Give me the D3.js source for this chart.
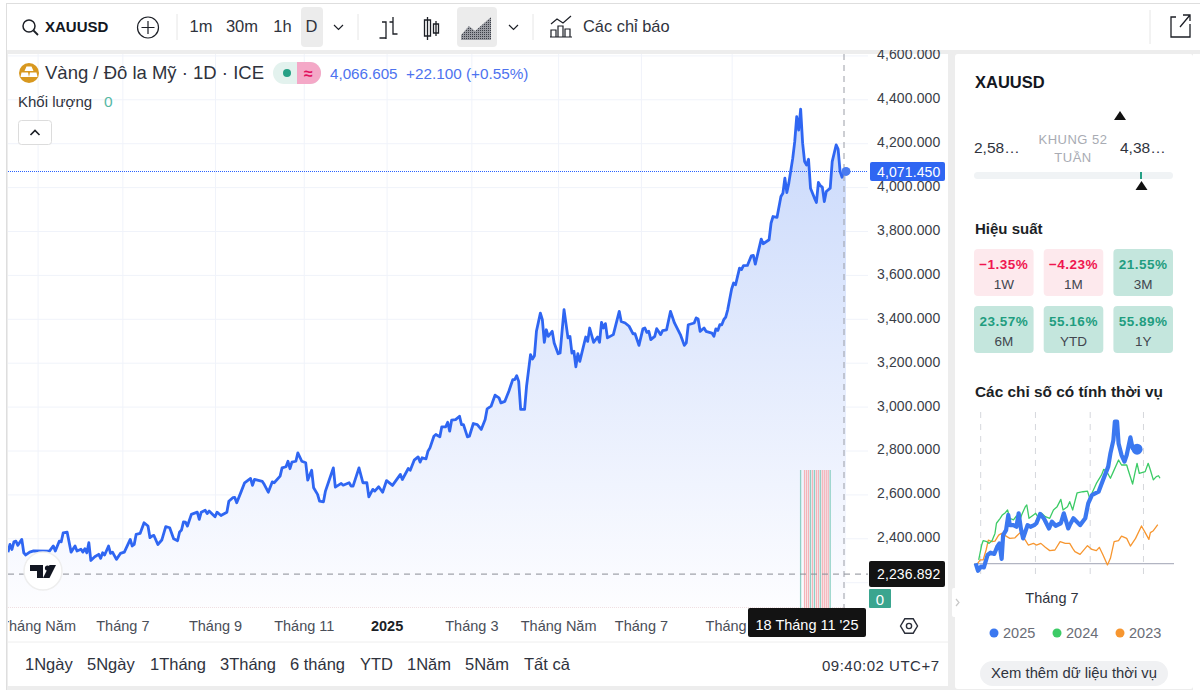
<!DOCTYPE html>
<html>
<head>
<meta charset="utf-8">
<title>XAUUSD</title>
<script src="https://cdn.jsdelivr.net/npm/d3@7"></script>
<style>
    html, body { margin: 0; padding: 0; background: #fff; overflow: hidden; }
    svg { display: block; font-family: "Liberation Sans", Arial, sans-serif; }
    .axis .domain { display: none; }
</style>
</head>
<body>
<div id="chart"></div>
<script>
// Price chart: bar number counted from the left edge, close at that bar
var barIndex = [0,1,2,3,4,5,7,8,9,11,13,21,23,24,26,27,28,30,32,34,35,37,38,39,40,41,42,44,46,47,48,49,51,52,53,55,57,59,62,63,
    64,65,67,69,71,72,73,74,76,78,80,82,84,86,87,88,89,90,91,93,96,97,98,100,101,102,105,106,108,111,112,114,115,116,118,120,123,124,125,129,
    130,132,134,135,138,139,141,142,143,144,146,147,149,151,152,154,155,157,158,160,161,163,165,166,169,170,173,174,175,178,180,182,183,185,186,188,190,192,195,199,
    200,203,204,206,208,209,210,212,213,214,216,217,219,220,222,223,224,225,227,229,230,231,233,234,236,238,240,242,243,245,
    247,249,250,252,254,256,257,258,259,260,262,263,265,266,267,268,270,271,272,273,274,276,277,279,280,282,284,285,286,287,288,289,290,293,294,295,297,299,300,301,
    302,303,304,307,310,311,313,315,317,318,320,322,323,324,325,326,328,329,331,332,334,336,338,341,343,344,345,348,349,350,351,353,354,357,358,359,360,361,362,363,
    364,365,367,368,369,371,372,373,375,377,378,379,382,383,386,387,388,390,392,393,394,395,396,398,399,400,401,402,403,404,405,406,407,409,410,411,412,413,414,415,417,418,420,421,422,423,424,425];
var closes = [2337,2372,2349,2384,2387,2368,2395,2334,2324,2337,2343,2342,2365,2342,2387,2384,2425,2428,2337,2365,2342,2350,2337,2353,2334,2380,2299,2316,2327,2309,2334,2324,2365,2331,2337,2304,2331,2337,2395,2365,
    2372,2418,2422,2471,2456,2403,2410,2413,2372,2392,2453,2448,2398,2389,2428,2438,2475,2474,2456,2509,2519,2486,2519,2528,2513,2524,2498,2519,2504,2519,2569,2585,2586,2562,2607,2653,2673,2641,2668,2659,
    2645,2610,2657,2653,2683,2721,2726,2751,2717,2747,2751,2789,2751,2744,2665,2710,2630,2600,2569,2566,2615,2668,2721,2633,2650,2642,2653,2638,2638,2721,2653,2653,2589,2623,2615,2635,2610,2663,2641,2691,
    2668,2718,2710,2756,2771,2747,2767,2762,2797,2812,2865,2873,2862,2908,2908,2929,2888,2938,2941,2956,2918,2918,2862,2865,2923,2918,2896,2941,2990,3002,
    3052,3040,3017,3024,3070,3123,3123,3141,3115,2987,2987,3093,3237,3217,3232,3343,3426,3396,3293,3350,3320,3343,3290,3241,3244,3442,3313,3320,3244,3252,3181,3241,3206,3317,3297,3358,3293,3317,3293,3384,
    3358,3378,3313,3328,3434,3388,3381,3366,3331,3332,3279,3354,3358,3338,3343,3305,3320,3355,3328,3346,3350,3434,3381,3328,3279,3290,3373,3381,3404,3399,3343,3358,3343,3335,3320,3354,3347,3373,3373,3396,
    3408,3441,3536,3563,3555,3631,3624,3642,3643,3687,3689,3649,3763,3742,3760,3836,3866,3862,3957,3972,4041,3975,4018,4132,4207,4321,4260,4355,4200,4116,4101,4127,3995,3950,3930,4021,4006,4000,3934,3980,3995,4116,4192,4173,4071,4045,4066.605,4071.45];

var priceTicks = [4600,4400,4200,4000,3800,3600,3400,3200,3000,2800,2600,2400,2200];
var timeTickBars = [15,58,105,150,192,235,279,321,367];
var timeTickLabels = ["Tháng Năm","Tháng 7","Tháng 9","Tháng 11","2025","Tháng 3","Tháng Năm","Tháng 7","Tháng 9"];

// Volume only exists for the last few bars, all the same height
var volumeBars = [402,404,405,406,407,408,409,410,411,412,413,414,415,416,417];
var volumeValues = [1,1,1,1,1,1,1,1,1,1,1,1,1,1,1];
var volumeUp = [1,0,0,0,1,0,1,0,0,1,0,0,0,0,1];

// Seasonal panel: trading day of the year, percent change from the start of the year
var days2025 = [1,4,8,12,17,21,26,30,33,36,38,42,45,47,52,56,59,62,65,71,75,80,83,88,93,100,104,109,116,120,126,128,133,142,149,153,158,167,173,180,183,187,189,192,194,198,202,205,210,213,219];
var pct2025 = [0.2,-3.4,-1.4,-1.8,4.2,5.3,4.7,8.2,9.8,2.3,13.8,16.2,23.5,18.6,18.6,17.8,24.3,17,12.2,18.6,17.8,18.6,19.5,24,21.9,17,20.3,18.3,19.5,24.3,17,18.6,21.9,18.6,21.9,29.1,33.1,34.7,40.4,46.8,53.2,59.6,68.5,68.5,58,52.4,49.2,52.4,60.9,55.6,55.2];
var days2024 = [5,9,11,16,19,23,27,29,34,37,41,44,47,52,56,60,63,68,70,73,79,82,86,90,95,101,106,111,116,119,125,128,132,138,146,152,155,160,164,171,174,178,183,187,194,198,205,207,213,216,219,222,230,234,237,241,245,248,250];
var pct2024 = [1.8,9,11.1,10.6,9.8,11.1,14.6,19.5,21.9,23.5,24.6,25.9,21.9,21.1,23,20.3,23.5,27.5,28.3,21.9,23.5,24.3,21.9,24.3,22.7,21.9,25.9,27.5,31,25.9,27.5,29.9,25.9,34.2,34.7,35,31.5,35.5,38.7,42.8,45.5,44.4,41.2,44.4,50,47.6,47.6,45.2,38.4,43.6,48.4,43.6,44.4,48.4,45.2,40.4,42,42.4,41.2];
var days2023 = [3,7,11,15,18,23,27,32,36,42,47,54,61,68,72,79,83,89,95,101,108,115,122,128,132,135,142,152,158,164,168,173,179,183,188,194,198,205,210,217,225,230,235,237,241,247];
var pct2023 = [-0.2,1.8,1.8,6.6,11.4,10.6,10.9,13.8,14.6,13.3,12.2,12.5,15,11.4,9,9.8,9,9.8,7.9,6.3,6.6,10.6,9.8,9.8,7.4,5.8,4.5,8.7,6.9,6.3,7.9,4.2,-0.6,2.6,10.6,11.1,13.3,12.2,8.5,12.2,18.2,15,11.7,15,15.9,18.8];
var seasonGridDays = [7,81,155,227];
var seasonYears = ["2025","2024","2023"];

var perfLabels = ["1W","1M","3M","6M","YTD","1Y"];
var perfValues = [-1.35,-4.23,21.55,23.57,55.16,55.89];

var rangeLabels = ["1Ngày","5Ngày","1Tháng","3Tháng","6 tháng","YTD","1Năm","5Năm","Tất cả"];
var toolbarTimes = ["1m","30m","1h","D"];

var blue = "#2f66f2";
var textDark = "#2a2e39";

var svg = d3.select("#chart").append("svg").attr("width", 1200).attr("height", 693);

function label(parent, x, y, str, size, opts) {
    opts = opts || {};
    return parent.append("text")
        .attr("x", x).attr("y", y)
        .attr("font-size", size)
        .attr("fill", opts.fill || textDark)
        .attr("font-weight", opts.weight || null)
        .attr("text-anchor", opts.anchor || "start")
        .attr("letter-spacing", opts.spacing || null)
        .text(str);
}

// Scales
var x = d3.scaleLinear().domain([0, 425]).range([8, 846]);
var y = d3.scaleLinear().domain([2400, 4400]).range([538.3, 99.3]);
var volY = d3.scaleLinear().domain([0, 1]).range([608, 470]);

var defs = svg.append("defs");
defs.append("clipPath").attr("id", "pane").append("rect").attr("x", 8).attr("y", 54).attr("width", 861).attr("height", 554);
// this one is used inside the translated time axis group
defs.append("clipPath").attr("id", "pane2").append("rect").attr("x", 8).attr("y", 0).attr("width", 940).attr("height", 34);
var grad = defs.append("linearGradient").attr("id", "areaFill").attr("gradientUnits", "userSpaceOnUse")
    .attr("x1", 0).attr("x2", 0).attr("y1", 105).attr("y2", 608);
grad.append("stop").attr("offset", 0).attr("stop-color", "#c8d8fb");
grad.append("stop").attr("offset", 1).attr("stop-color", "#fdfdff");
var hatch = defs.append("pattern").attr("id", "hatch").attr("patternUnits", "userSpaceOnUse").attr("width", 2).attr("height", 2);
hatch.append("rect").attr("width", 2).attr("height", 2).attr("fill", "#9a9ca3");
hatch.append("rect").attr("width", 1).attr("height", 1).attr("fill", "#3c3f47");

// Frame
svg.append("rect").attr("x", 0).attr("y", 0).attr("width", 1200).attr("height", 693).attr("fill", "#fff");
svg.append("rect").attr("x", 6).attr("y", 50).attr("width", 1194).attr("height", 640).attr("fill", "#ededed");
svg.append("rect").attr("x", 8).attr("y", 54).attr("width", 940).attr("height", 632).attr("fill", "#fff");

// Price axis carries the horizontal grid, time axis the vertical grid
var pane = svg.append("g");
var plot = pane.append("g").attr("clip-path", "url(#pane)");

plot.append("g").attr("transform", "translate(8,0)")
    .call(d3.axisRight(y).tickValues(priceTicks).tickSize(860).tickFormat(""))
    .call(g => g.select(".domain").remove())
    .selectAll("line").attr("stroke", "#f0f3fa");

plot.append("g").attr("transform", "translate(0,54)")
    .call(d3.axisBottom(x).tickValues(timeTickBars).tickSize(554).tickFormat(""))
    .call(g => g.select(".domain").remove())
    .selectAll("line").attr("stroke", "#f0f3fa");

var area = d3.area().x((d, i) => x(barIndex[i])).y0(608).y1(d => y(d));
var line = d3.line().x((d, i) => x(barIndex[i])).y(d => y(d));

plot.append("path").datum(closes).attr("d", area).attr("fill", "url(#areaFill)");

// Volume bars and the row of empty volume dots along the bottom
plot.append("line").attr("x1", 8).attr("x2", 846).attr("y1", 607.5).attr("y2", 607.5)
    .attr("stroke", "#f0dfe1").attr("stroke-dasharray", "1,1");
plot.selectAll("rect.vol").data(volumeValues).enter().append("rect")
    .attr("class", "vol")
    .attr("x", (d, i) => x(volumeBars[i]) - 0.7)
    .attr("width", 1.3)
    .attr("y", d => volY(d))
    .attr("height", d => volY(0) - volY(d))
    .attr("fill", (d, i) => volumeUp[i] ? "#8fd0c5" : "#f5b4b8");

plot.append("path").datum(closes).attr("d", line)
    .attr("fill", "none").attr("stroke", blue).attr("stroke-width", 2.8).attr("stroke-linejoin", "round");

// Last price line and crosshair
var lastClose = closes[closes.length - 1];
var lastY = Math.round(y(lastClose)) + 0.5;
plot.append("line").attr("x1", 8).attr("x2", 868).attr("y1", lastY).attr("y2", lastY)
    .attr("stroke", "#2962ff").attr("stroke-width", 1).attr("stroke-dasharray", "1,1");
plot.append("line").attr("x1", 8).attr("x2", 868).attr("y1", y(2236.892)).attr("y2", y(2236.892))
    .attr("stroke", "#8a8d96").attr("stroke-width", 1).attr("stroke-dasharray", "6,5");
plot.append("line").attr("x1", 844).attr("x2", 844).attr("y1", 54).attr("y2", 608)
    .attr("stroke", "#9a9da6").attr("stroke-width", 1).attr("stroke-dasharray", "6,5");
plot.append("circle").attr("cx", x(425)).attr("cy", y(lastClose)).attr("r", 4.5).attr("fill", "#4a7bf0");

// Tick labels
var priceAxis = pane.append("g").attr("class", "axis").attr("transform", "translate(869,-1)")
    .call(d3.axisRight(y).tickValues(priceTicks.slice(0, 12)).tickSize(0).tickPadding(8).tickFormat(d3.format(",.3f")));
priceAxis.selectAll("text").attr("font-size", 14).attr("letter-spacing", 0.12)
    .attr("font-family", "Liberation Sans").attr("fill", "#3a3e48");

var timeAxis = pane.append("g").attr("class", "axis").attr("transform", "translate(0,608)").attr("clip-path", "url(#pane2)")
    .call(d3.axisBottom(x).tickValues(timeTickBars).tickSize(0).tickPadding(13).tickFormat((d, i) => timeTickLabels[i]));
timeAxis.selectAll("text").attr("font-size", 14.5).attr("font-family", "Liberation Sans").attr("fill", "#4a4e58")
    .attr("font-weight", (d, i) => timeTickLabels[i] == "2025" ? "bold" : null)
    .style("fill", (d, i) => timeTickLabels[i] == "2025" ? "#1c1f26" : null);

// Price and date flags
var flags = svg.append("g");
flags.append("rect").attr("x", 870).attr("y", lastY - 9.5).attr("width", 75).attr("height", 19).attr("rx", 2).attr("fill", blue);
label(flags, 877, lastY + 5, d3.format(",.3f")(lastClose), 14, { fill: "#fff", spacing: 0.12 });
flags.append("rect").attr("x", 869).attr("y", 561).attr("width", 76).attr("height", 26).attr("rx", 2).attr("fill", "#131313");
label(flags, 877, 578.5, "2,236.892", 14, { fill: "#fff", spacing: 0.12 });
flags.append("rect").attr("x", 869).attr("y", 589).attr("width", 22).attr("height", 19).attr("rx", 1).attr("fill", "#3aa58f");
label(flags, 880, 604.5, "0", 15, { fill: "#fff", anchor: "middle" });
flags.append("rect").attr("x", 748).attr("y", 608).attr("width", 118).attr("height", 29).attr("rx", 2).attr("fill", "#131313");
label(flags, 807, 630, "18 Tháng 11 '25", 14.5, { fill: "#fff", anchor: "middle" });

// Settings hexagon in the axis corner
var gear = svg.append("g").attr("transform", "translate(909,626)").attr("fill", "none").attr("stroke", "#2a2e39").attr("stroke-width", 1.4);
gear.append("path").attr("d", "M-8.5 0L-4.2 -7.2H4.2L8.5 0L4.2 7.2H-4.2Z");
gear.append("circle").attr("r", 2.6);

// TradingView badge
var badge = svg.append("g");
badge.append("circle").attr("cx", 43).attr("cy", 571).attr("r", 19).attr("fill", "#fff").attr("stroke", "#eeeeee").attr("stroke-width", 1.5);
badge.append("path").attr("fill", "#131722").attr("d", "M30 565H43V578H37V571H30Z");
badge.append("circle").attr("cx", 47.5).attr("cy", 568).attr("r", 2.6).attr("fill", "#131722");
badge.append("path").attr("fill", "#131722").attr("d", "M49.5 565H56L49.5 578H43Z");

// Chart legend
var legend = svg.append("g");
legend.append("circle").attr("cx", 29).attr("cy", 73).attr("r", 10).attr("fill", "#d8981f");
legend.append("path").attr("fill", "#fff").attr("d", "M26.5 66.5H31.5L33.5 71H24.5ZM21.5 72.5H28L29 77H20.5ZM30 72.5H36.5L37.5 77H29Z");
label(legend, 45, 79, "Vàng / Đô la Mỹ · 1D · ICE", 18.5, { fill: "#2f333d" });
legend.append("rect").attr("x", 273).attr("y", 62).attr("width", 48).attr("height", 22).attr("rx", 11).attr("fill", "#e3f2ee");
legend.append("path").attr("fill", "#f4a8c7").attr("d", "M297 62H310A11 11 0 0 1 310 84H297Z");
legend.append("circle").attr("cx", 287).attr("cy", 73).attr("r", 4).attr("fill", "#26a085");
label(legend, 308.5, 79, "≈", 16, { fill: "#e0115f", anchor: "middle", weight: "bold" });
label(legend, 330, 79, "4,066.605", 15.2, { fill: "#4d73ef" });
label(legend, 406, 79, "+22.100 (+0.55%)", 15.3, { fill: "#4d73ef" });
label(legend, 18, 107, "Khối lượng", 15, { fill: "#2f333d" });
label(legend, 104, 107, "0", 15.5, { fill: "#56b8a4" });
legend.append("rect").attr("x", 18.5).attr("y", 120.5).attr("width", 33).attr("height", 24).attr("rx", 3).attr("fill", "#fff").attr("stroke", "#dcdcdc");
legend.append("path").attr("d", "M30.5 135L35 130.5L39.5 135").attr("fill", "none").attr("stroke", "#1c1f26").attr("stroke-width", 1.6);

// Range buttons and clock
var rangeX = [25, 87, 150, 220, 290, 360, 407, 465, 524];
var bottom = svg.append("g");
bottom.append("line").attr("x1", 8).attr("x2", 948).attr("y1", 642).attr("y2", 642).attr("stroke", "#eeeeee");
rangeLabels.forEach((d, i) => label(bottom, rangeX[i], 670, d, 16.5, { fill: "#2f333d" }));
label(bottom, 822, 671, "09:40:02 UTC+7", 15, { fill: "#2f333d", spacing: 0.5 });

// Toolbar
var bar = svg.append("g");
bar.append("rect").attr("x", 6).attr("y", 3).attr("width", 1194).attr("height", 47).attr("fill", "#fff");
bar.append("line").attr("x1", 6).attr("x2", 1200).attr("y1", 3.5).attr("y2", 3.5).attr("stroke", "#dedede");
bar.append("line").attr("x1", 6.5).attr("x2", 6.5).attr("y1", 3).attr("y2", 690).attr("stroke", "#dedede");
var icons = bar.append("g").attr("fill", "none").attr("stroke", "#1c1f26").attr("stroke-width", 1.5);
icons.append("circle").attr("cx", 29).attr("cy", 26).attr("r", 6);
icons.append("path").attr("d", "M33.5 30.5L38 35").attr("stroke-width", 1.8);
label(bar, 45, 32, "XAUUSD", 15, { weight: "bold", fill: "#131722" });
icons.append("circle").attr("cx", 148).attr("cy", 27.5).attr("r", 10.5).attr("stroke-width", 1.2);
icons.append("path").attr("d", "M141.5 27.5H154.5M148 21V34").attr("stroke-width", 1.2);
[177, 358, 533].forEach(d => bar.append("line").attr("x1", d).attr("x2", d).attr("y1", 14).attr("y2", 40).attr("stroke", "#e6e6e6"));
bar.append("rect").attr("x", 301).attr("y", 7).attr("width", 22).attr("height", 40).attr("rx", 4).attr("fill", "#ececec");
bar.append("rect").attr("x", 457).attr("y", 7).attr("width", 40).attr("height", 40).attr("rx", 4).attr("fill", "#ececec");
var toolbarX = [201, 242, 282.5, 311.5];
toolbarTimes.forEach((d, i) => label(bar, toolbarX[i], 32, d, 16.5, { anchor: "middle", fill: "#2f333d" }));
[338.5, 513.5].forEach(d => icons.append("path").attr("d", "M" + (d - 4.5) + " 25L" + d + " 29.5L" + (d + 4.5) + " 25").attr("stroke-width", 1.2));
icons.append("path").attr("stroke-width", 1.3).attr("d", "M382 22H386V39M379.5 38H386M393 17V34H397.5M393 22H389.5");
icons.append("path").attr("stroke-width", 1.3).attr("d", "M427.5 17V40M424.5 20H430.5V36H424.5ZM436 21V36M433.5 24H438.5V33H433.5Z");
bar.append("path").attr("fill", "url(#hatch)").attr("d", "M461 40V35L469 26L475 31L491 17V40Z");
icons.append("path").attr("stroke-width", 1.4).attr("d", "M461 32L469 23L475 28L491 14");
icons.append("path").attr("stroke-width", 1.2).attr("d", "M551 24L557 19L563 23L571 16M551 37V30H556V37ZM558 37V26H563V37ZM565 37V29H570V37ZM550 37H572");
label(bar, 583, 32, "Các chỉ báo", 16.4, { fill: "#2f333d" });
bar.append("line").attr("x1", 1150).attr("x2", 1150).attr("y1", 10).attr("y2", 44).attr("stroke", "#e6e6e6");
icons.append("path").attr("stroke-width", 1.3).attr("d", "M1176 17H1171V37H1190V24M1180 27L1190 15M1183 15H1190V21");

// Side panel
var side = svg.append("g");
side.append("rect").attr("x", 955).attr("y", 54).attr("width", 238).attr("height", 635).attr("rx", 3).attr("fill", "#fff");
svg.append("rect").attr("x", 1193).attr("y", 54).attr("width", 7).attr("height", 639).attr("fill", "#fff");
side.append("rect").attr("x", 952).attr("y", 588).attr("width", 10).attr("height", 29).attr("rx", 2).attr("fill", "#fff");
side.append("path").attr("d", "M956 599L959 602.5L956 606").attr("fill", "none").attr("stroke", "#c8c8c8").attr("stroke-width", 1.2);
label(side, 975, 88, "XAUUSD", 16.5, { weight: "bold", fill: "#131722" });
side.append("path").attr("fill", "#111").attr("d", "M1120 111L1126 120H1114Z");
label(side, 974, 153, "2,58…", 15.5, { fill: "#2f333d" });
label(side, 1120, 153, "4,38…", 15.5, { fill: "#2f333d" });
label(side, 1073, 144, "KHUNG 52", 13, { fill: "#a8abb3", anchor: "middle", spacing: 0.5 });
label(side, 1073, 162, "TUẦN", 13, { fill: "#a8abb3", anchor: "middle", spacing: 0.5 });
side.append("rect").attr("x", 974).attr("y", 172).attr("width", 199).attr("height", 7).attr("rx", 3.5).attr("fill", "#f0f3f5");
side.append("rect").attr("x", 1140).attr("y", 172).attr("width", 2).attr("height", 7).attr("fill", "#26a085");
side.append("path").attr("fill", "#111").attr("d", "M1141.5 181L1147.5 190H1135.5Z");
label(side, 975, 234, "Hiệu suất", 15, { weight: "bold", fill: "#1c1f26" });

var perfX = d3.scaleBand().domain(d3.range(3)).range([974, 1173]).paddingInner(0.145);
var perfFormat = d3.format(".2f");
perfValues.forEach((v, i) => {
    var col = i % 3, row = Math.floor(i / 3), top = 249 + row * 57;
    var cx = perfX(col) + perfX.bandwidth() / 2;
    side.append("rect").attr("x", perfX(col)).attr("y", top).attr("width", perfX.bandwidth()).attr("height", 47).attr("rx", 4)
        .attr("fill", v < 0 ? "#fde9ed" : "#c4e6dd");
    label(side, cx, top + 20, (v < 0 ? "−" + perfFormat(-v) : perfFormat(v)) + "%", 13.5,
        { anchor: "middle", weight: "bold", spacing: 0.5, fill: v < 0 ? "#ef1650" : "#1f9d80" });
    label(side, cx, top + 40, perfLabels[i], 13.5, { anchor: "middle", fill: "#42464f" });
});

label(side, 975, 397, "Các chỉ số có tính thời vụ", 15.4, { weight: "bold", fill: "#1c1f26" });

// Seasonal lines
var seasonX = d3.scaleLinear().domain([0, 250]).range([975, 1160]);
var seasonY = d3.scaleLinear().domain([0, 50]).range([563.7, 460]);
var season = side.append("g");
season.append("g").attr("class", "axis").attr("transform", "translate(0,412)")
    .call(d3.axisBottom(seasonX).tickValues(seasonGridDays).tickSize(168).tickFormat(""))
    .selectAll("line").attr("stroke", "#d5d7dc").attr("stroke-dasharray", "6,6");
season.append("line").attr("x1", 974).attr("x2", 1174).attr("y1", seasonY(0)).attr("y2", seasonY(0)).attr("stroke", "#b2b5c2").attr("stroke-width", 1.2);

function seasonLine(days, pct, color, width) {
    var gen = d3.line().x((d, i) => seasonX(days[i])).y(d => seasonY(d));
    season.append("path").datum(pct).attr("d", gen)
        .attr("fill", "none").attr("stroke", color).attr("stroke-width", width).attr("stroke-linejoin", "round");
}
seasonLine(days2023, pct2023, "#f7962f", 1.3);
seasonLine(days2024, pct2024, "#3ccb66", 1.3);
seasonLine(days2025, pct2025, "#3b78f0", 4.2);
season.append("circle").attr("cx", seasonX(219)).attr("cy", seasonY(55.2)).attr("r", 5.5).attr("fill", "#3b78f0");

label(side, seasonX(104), 603, "Tháng 7", 14.5, { anchor: "middle", fill: "#2f333d" });

var seasonColors = d3.scaleOrdinal().domain(seasonYears).range(["#3b78f0", "#3ccb66", "#f7962f"]);
var seasonLegendX = d3.scaleOrdinal().domain(seasonYears).range([994, 1057, 1120]);
seasonYears.forEach(d => {
    side.append("circle").attr("cx", seasonLegendX(d)).attr("cy", 633).attr("r", 4.5).attr("fill", seasonColors(d));
    label(side, seasonLegendX(d) + 9, 638, d, 14.5, { fill: "#6a6d76" });
});
side.append("rect").attr("x", 980).attr("y", 661).attr("width", 188).attr("height", 25).attr("rx", 12.5).attr("fill", "#f0f1f3");
label(side, 1074, 678, "Xem thêm dữ liệu thời vụ", 14.8, { anchor: "middle", fill: "#2f333d" });
</script>
</body>
</html>
